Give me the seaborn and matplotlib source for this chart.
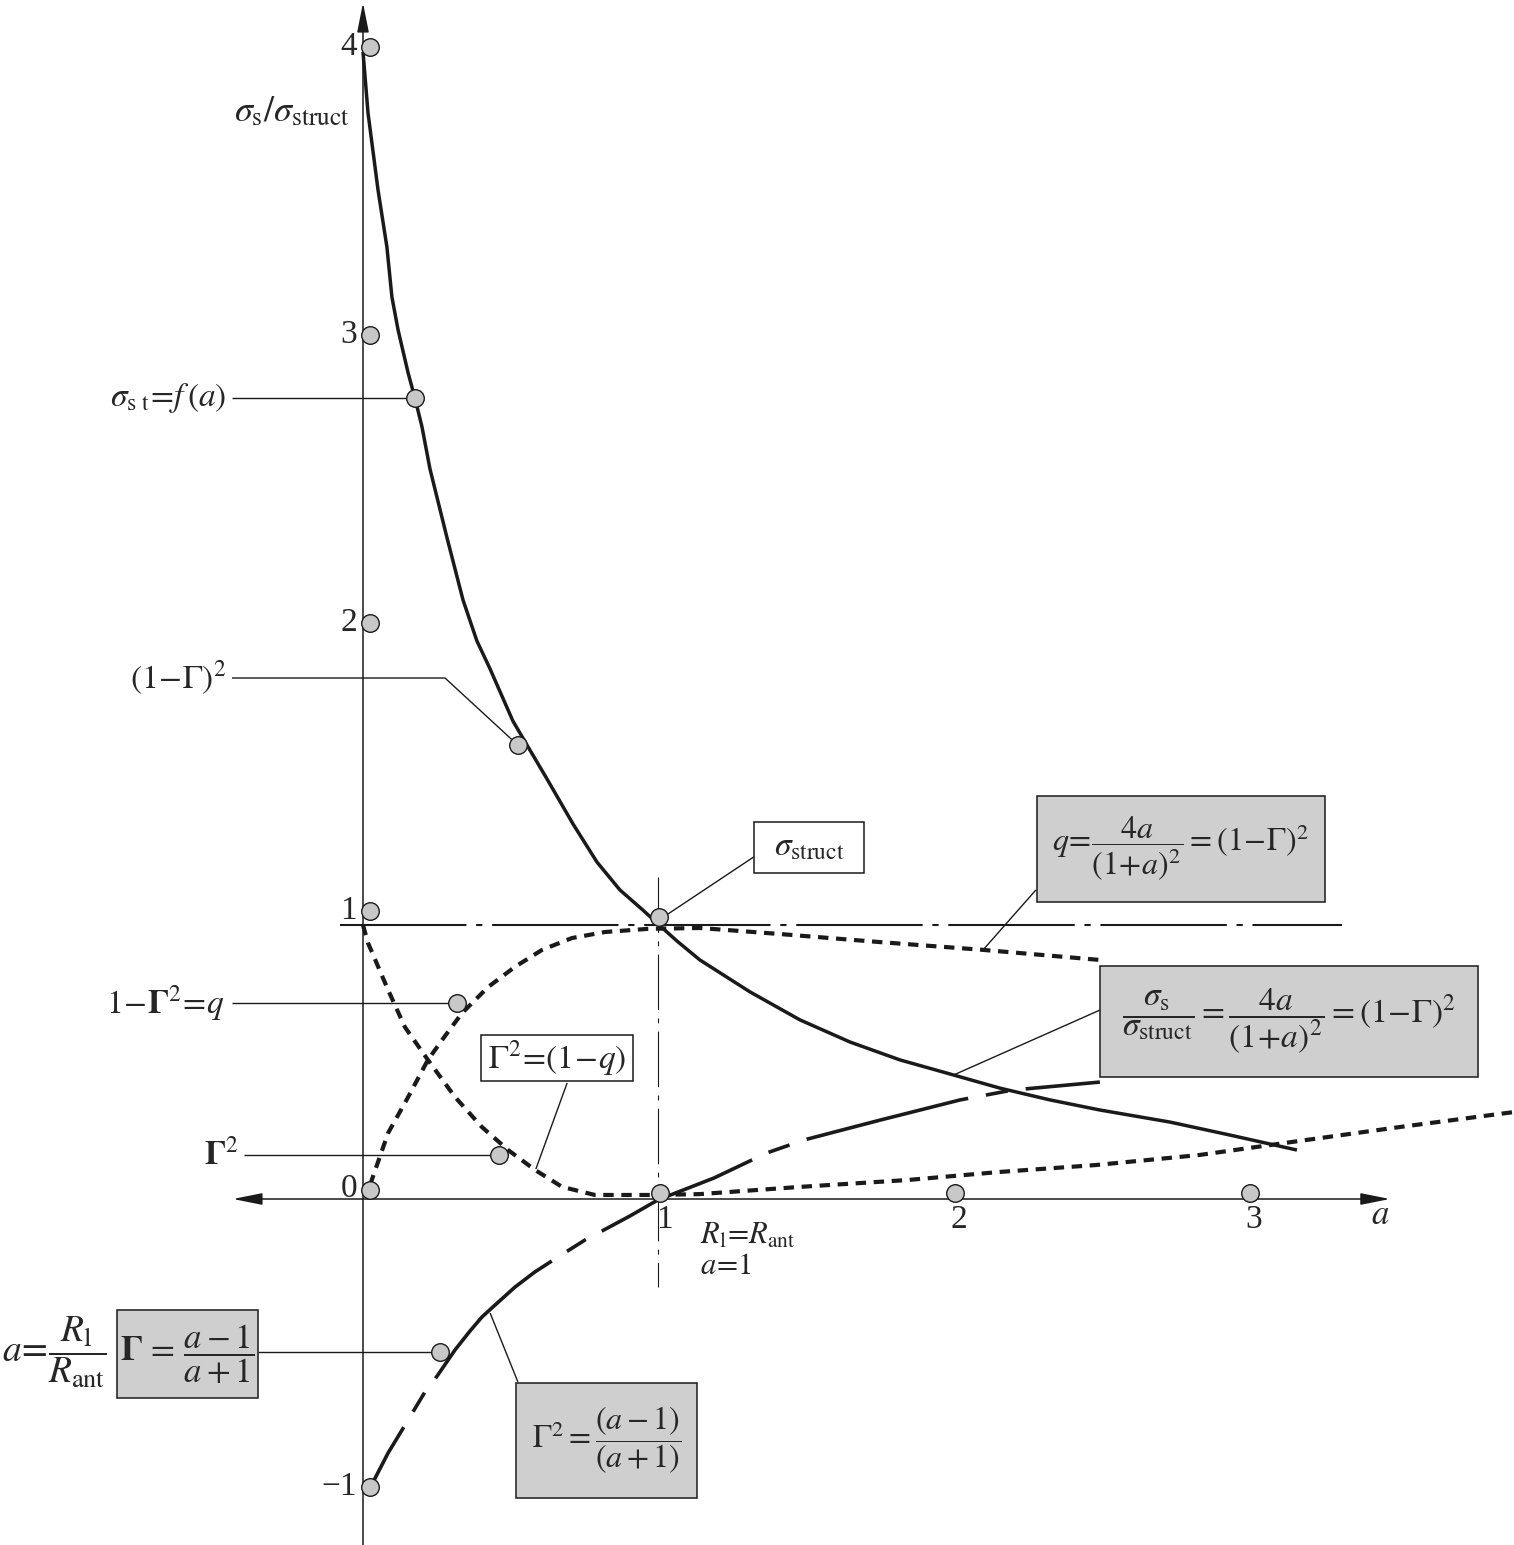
import numpy as np
import pandas as pd
import matplotlib
matplotlib.use("Agg")
import matplotlib.pyplot as plt
import matplotlib.transforms as mtransforms
from matplotlib.patches import Rectangle
import seaborn as sns

# ---------------- data ----------------
# sigma_s / sigma_struct  (solid curve)
sig_a = [0.0, 0.017, 0.051, 0.081, 0.098, 0.119, 0.153, 0.176, 0.200, 0.227, 0.285, 0.339,
         0.386, 0.431, 0.508, 0.556, 0.624, 0.712, 0.793, 0.871, 0.949, 1.000, 1.064, 1.142,
         1.312, 1.481, 1.651, 1.820, 1.990, 2.159, 2.329, 2.498, 2.736, 2.939, 3.166]
sig_v = [3.983, 3.771, 3.503, 3.306, 3.132, 3.017, 2.868, 2.781, 2.681, 2.535, 2.295, 2.080,
         1.938, 1.840, 1.660, 1.576, 1.458, 1.302, 1.170, 1.073, 1.003, 0.955, 0.896, 0.830,
         0.719, 0.622, 0.545, 0.483, 0.434, 0.385, 0.344, 0.309, 0.267, 0.222, 0.170]
# q = 1 - Gamma^2 (dotted, rising)
q_a = [0.024, 0.085, 0.153, 0.220, 0.278, 0.336, 0.424, 0.515, 0.607, 0.708, 0.820, 0.966,
       1.142, 1.414, 1.753, 2.102, 2.498]
q_v = [0.049, 0.229, 0.354, 0.483, 0.566, 0.646, 0.736, 0.806, 0.865, 0.906, 0.927, 0.938,
       0.941, 0.920, 0.892, 0.865, 0.830]
# Gamma^2 (dotted, falling then rising)
g2_a = [0.0, 0.017, 0.085, 0.142, 0.220, 0.312, 0.403, 0.492, 0.583, 0.675, 0.786, 0.990,
        1.142, 1.481, 1.847, 2.159, 2.485, 2.837, 3.149, 3.515, 3.902]
g2_v = [0.951, 0.889, 0.726, 0.597, 0.483, 0.354, 0.250, 0.170, 0.101, 0.042, 0.014, 0.014,
        0.017, 0.042, 0.066, 0.094, 0.118, 0.153, 0.198, 0.250, 0.302]
# Gamma (long dashes)
g_a = [0.024, 0.085, 0.149, 0.210, 0.251, 0.312, 0.363, 0.403, 0.437, 0.515, 0.583, 0.651,
       0.753, 0.803, 0.905, 1.000, 1.190, 1.369, 1.495, 1.753, 2.024, 2.200, 2.498]
g_v = [-1.003, -0.882, -0.774, -0.670, -0.615, -0.524, -0.458, -0.410, -0.378, -0.306, -0.253,
       -0.208, -0.142, -0.115, -0.059, -0.003, 0.073, 0.160, 0.205, 0.274, 0.344, 0.378, 0.406]
# reference level and matched point
level_one = 0.951
match_a = 1.0

y_ticks = [4, 3, 2, 1, 0, -1]
y_tick_labels = ["4", "3", "2", "1", "0", "\u22121"]
x_ticks = [1, 2, 3]
x_tick_labels = ["1", "2", "3"]

# annotation points on the curves
mark_a = [0.176, 0.525, 1.003, 0.318, 0.461, 0.261]
mark_v = [2.781, 1.576, 0.979, 0.681, 0.153, -0.531]

# ---------------- style ----------------
sns.set_theme(style="white")
plt.rcParams["font.family"] = ["Liberation Serif", "DejaVu Serif"]
plt.rcParams["mathtext.fontset"] = "stix"
plt.rcParams["lines.scale_dashes"] = False

W, H = 1514, 1545
fig = plt.figure(figsize=(W / 100, H / 100), dpi=100)
ax = fig.add_axes([0, 0, 1, 1])
ax.set_xlim(-363 / 295, (W - 363) / 295)
ax.set_ylim((1199 - H) / 288, 1199 / 288)
ax.axis("off")

FS = 21
GRAY = "#cfcfcf"


def off(dx, dy):
    return ax.transData + mtransforms.ScaledTranslation(dx / 100, dy / 100, fig.dpi_scale_trans)


def curve(x, y, lw, ls=None):
    sns.lineplot(x=x, y=y, sort=False, estimator=None, color="k", lw=lw, ax=ax)
    line = ax.lines[-1]
    if ls is not None:
        line.set_linestyle(ls)
    line.set_solid_capstyle("butt")
    line.set_solid_joinstyle("round")
    return line


# axes with arrows
ax.annotate("", xy=(0, 4.153), xytext=(0, ax.get_ylim()[0]),
            arrowprops=dict(arrowstyle="-|>,head_length=1.5,head_width=0.3", lw=1.1,
                            color="k", shrinkA=0, shrinkB=0))
ax.annotate("", xy=(3.481, 0), xytext=(-0.441, 0),
            arrowprops=dict(arrowstyle="<|-|>,head_length=1.5,head_width=0.3", lw=1.1,
                            color="k", shrinkA=0, shrinkB=0))

# dash-dot reference lines
curve([-0.078, 3.319], [level_one, level_one], 1.5, (0, (91, 7, 4.5, 7)))
curve([match_a, match_a], [1.118, -0.306], 0.8, (0, (40, 6, 3.5, 6)))

# curves
curve(sig_a, sig_v, 2.5)
curve(q_a, q_v, 3.0, (0, (7.5, 5.5)))
curve(g2_a, g2_v, 3.0, (0, (7.5, 5.5)))
curve(g_a, g_v, 2.6, (70, (120, 13, 16, 13)))

# leader lines
leaders = [
    ([-0.444, 0.176], [2.781, 2.781]),
    ([-0.444, 0.278, 0.525], [1.809, 1.809, 1.576]),
    ([1.325, 1.014], [1.188, 0.976]),
    ([2.281, 2.102], [1.073, 0.865]),
    ([2.498, 2.003], [0.656, 0.431]),
    ([-0.444, 0.318], [0.681, 0.681]),
    ([0.692, 0.586], [0.403, 0.104]),
    ([-0.403, 0.461], [0.153, 0.153]),
    ([-0.356, 0.261], [-0.531, -0.531]),
    ([0.525, 0.431], [-0.635, -0.396]),
]
for lx, ly in leaders:
    curve(lx, ly, 1.0)

# circles
ckw = dict(s=160, color="#c8c8c8", edgecolor="k", linewidth=1.0, zorder=6, ax=ax)
for v in y_ticks:
    sns.scatterplot(x=[0], y=[v], transform=off(7, 9 if v == 0 else 0), **ckw)
sns.scatterplot(x=x_ticks, y=[0] * len(x_ticks), transform=off(2, 6), **ckw)
sns.scatterplot(x=mark_a, y=mark_v, **ckw)

# tick labels
for v, t in zip(y_ticks, y_tick_labels):
    ax.text(0, v, t, ha="right", va="center", fontsize=FS + 3,
            transform=off(-6, 10 if v == 0 else 0))
for v, t in zip(x_ticks, x_tick_labels):
    ax.text(v, 0, t, ha="center", va="top", fontsize=FS + 3, transform=off(6, -6))
ax.text(3.447, -0.056, r"$a$", ha="center", va="center", fontsize=FS + 4)
ax.text(-0.044, 3.774, r"$\sigma_{\rm s}/\sigma_{\rm struct}$", ha="right", va="center",
        fontsize=FS + 5)

# left labels
ax.text(-0.464, 2.781, r"$\sigma_{\rm s\ t}\!=\!f\,(a)$", ha="right", va="center", fontsize=FS + 3)
ax.text(-0.464, 1.809, r"$(1\!-\!\Gamma)^2$", ha="right", va="center", fontsize=FS + 3)
ax.text(-0.470, 0.681, r"$1\!-\!\mathbf{\Gamma}^2\!=\!q$", ha="right", va="center", fontsize=FS + 3)
ax.text(-0.424, 0.153, r"$\mathbf{\Gamma}^2$", ha="right", va="center", fontsize=FS + 3)
ax.text(-1.224, -0.531, r"$a\!=\!\dfrac{R_{\rm l}}{R_{\rm ant}}$", ha="left", va="center",
        fontsize=FS + 6)
ax.text(1.142, -0.128, r"$R_{\rm l}\!=\!R_{\rm ant}$", ha="left", va="center", fontsize=FS + 1)
ax.text(1.142, -0.236, r"$a\!=\!1$", ha="left", va="center", fontsize=FS + 1)

# boxes
boxes = [
    ((1.325, 1.132), 0.373, 0.177, "white", r"$\sigma_{\rm struct}$", FS + 3),
    ((2.285, 1.031), 0.976, 0.368, GRAY,
     r"$q\!=\!\dfrac{4a}{(1\!+\!a)^2}=(1\!-\!\Gamma)^2$", FS + 2),
    ((2.498, 0.424), 1.282, 0.385, GRAY,
     r"$\dfrac{\sigma_{\rm s}}{\sigma_{\rm struct}}=\dfrac{4a}{(1\!+\!a)^2}=(1\!-\!\Gamma)^2$", FS + 3),
    ((0.400, 0.410), 0.515, 0.159, "white", r"$\Gamma^2\!=\!(1\!-\!q)$", FS + 3),
    ((-0.834, -0.691), 0.478, 0.306, GRAY, r"$\mathbf{\Gamma}\,=\,\dfrac{a-1}{a+1}$", FS + 4),
    ((0.519, -1.038), 0.613, 0.399, GRAY, r"$\Gamma^2=\dfrac{(a-1)}{(a+1)}$", FS + 2),
]
for (bx, by), bw, bh, fc, txt, fs in boxes:
    ax.add_patch(Rectangle((bx, by), bw, bh, facecolor=fc, edgecolor="k", lw=1.1, zorder=7))
    ax.text(bx + bw / 2, by + bh / 2, txt, ha="center", va="center", fontsize=fs, zorder=8)

fig.savefig("out.png", dpi=100)
